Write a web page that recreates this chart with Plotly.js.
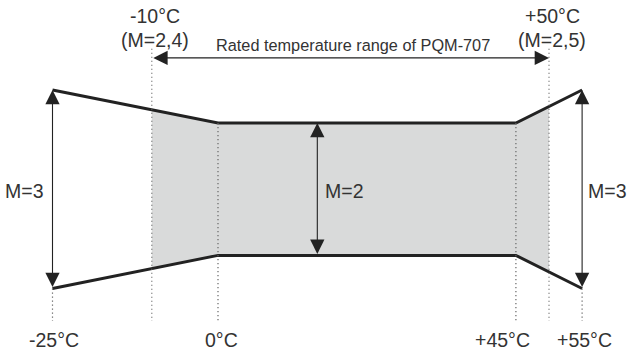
<!DOCTYPE html>
<html>
<head>
<meta charset="utf-8">
<script src="https://cdn.plot.ly/plotly-3.0.1.min.js"></script>
<style>html,body{margin:0;padding:0;background:#fff;}#chart{width:627px;height:351px;}</style>
</head>
<body>
<div id="chart"></div>
<script>
// Envelope of the uncertainty multiplier M vs temperature
const envTemps = [-25, 0, 45, 55];
const envM = [3, 2, 2, 3];
// Rated temperature range (shaded)
const ratedTemps = [-10, 0, 45, 50];
const ratedM = [2.4, 2, 2, 2.5];
// Bottom tick labels
const bottomTemps = [-25, 0, 45, 55];
const bottomLabels = ['-25°C', '0°C', '+45°C', '+55°C'];
// Top labels (range limits)
const topTemps = [-10, 50];
const topLabels = ['-10°C', '+50°C'];
const topMLabels = ['(M=2,4)', '(M=2,5)'];
const rangeTitle = 'Rated temperature range of PQM-707';
// M labels next to the vertical arrows
const mArrowTemps = [-25, 15, 55];
const mArrowValues = [3, 2, 3];
const mLabelTemps = [-29.3, 19.0, 58.8];
const mLabels = ['M=3', 'M=2', 'M=3'];

const ink = '#222';
const txt = '#333';
const fontFam = 'Liberation Sans, Arial, sans-serif';

const fillX = ratedTemps.concat(ratedTemps.slice().reverse());
const fillY = ratedM.concat(ratedM.slice().reverse().map(v => -v));

const traces = [
  {x: fillX, y: fillY, type: 'scatter', mode: 'lines', fill: 'toself',
   fillcolor: '#d9dada', line: {width: 0}, hoverinfo: 'skip', showlegend: false},
  {x: envTemps, y: envM, type: 'scatter', mode: 'lines',
   line: {color: ink, width: 3}, hoverinfo: 'skip', showlegend: false},
  {x: envTemps, y: envM.map(v => -v), type: 'scatter', mode: 'lines',
   line: {color: ink, width: 3}, hoverinfo: 'skip', showlegend: false}
];

const envAt = t => {
  for (let i = 0; i < envTemps.length - 1; i++) {
    const a = envTemps[i], b = envTemps[i + 1];
    if (t >= a && t <= b) return envM[i] + (envM[i + 1] - envM[i]) * (t - a) / (b - a);
  }
  return envM[envM.length - 1];
};

const dotStyle = {color: '#666', width: 1.2, dash: '1.2px,2.8px'};
const shapes = [];
const bottomY = -3.98;
const topLineY = 4.25;
[envTemps[0], envTemps[envTemps.length - 1]].forEach(t => {
  shapes.push({type: 'line', xref: 'x', yref: 'y', x0: t, x1: t, y0: -envAt(t), y1: bottomY, line: dotStyle, layer: 'above'});
});
topTemps.forEach(t => {
  shapes.push({type: 'line', xref: 'x', yref: 'y', x0: t, x1: t, y0: topLineY, y1: bottomY, line: dotStyle, layer: 'above'});
});
[envTemps[1], envTemps[2]].forEach(t => {
  shapes.push({type: 'line', xref: 'x', yref: 'y', x0: t, x1: t, y0: envAt(t), y1: bottomY, line: dotStyle, layer: 'above'});
});

const annotations = [];
const font = {family: fontFam, size: 19.5, color: txt};
const arrowBase = {text: '', showarrow: true, axref: 'x', ayref: 'y', arrowcolor: ink,
  arrowwidth: 1.1, arrowhead: 2, startarrowhead: 2, arrowsize: 2.6, startarrowsize: 2.6,
  arrowside: 'end+start', standoff: 0, startstandoff: 0};

mArrowTemps.forEach((t, i) => {
  annotations.push(Object.assign({}, arrowBase, {x: t, y: mArrowValues[i], ax: t, ay: -mArrowValues[i]}));
  annotations.push({x: mLabelTemps[i], y: -0.05, text: mLabels[i], showarrow: false, font: font, xanchor: 'center', yanchor: 'middle'});
});
annotations.push(Object.assign({}, arrowBase, {x: topTemps[1], y: 3.97, ax: topTemps[0], ay: 3.97}));
annotations.push({x: 20.4, y: 4.37, text: rangeTitle, showarrow: false,
  font: {family: fontFam, size: 16.3, color: txt}, xanchor: 'center', yanchor: 'middle'});

topTemps.forEach((t, i) => {
  annotations.push({x: t, y: 5.24, text: topLabels[i], showarrow: false, font: font, xanchor: 'center', yanchor: 'middle', xshift: 3});
  annotations.push({x: t, y: 4.52, text: topMLabels[i], showarrow: false, font: font, xanchor: 'center', yanchor: 'middle', xshift: 3});
});
bottomTemps.forEach((t, i) => {
  const shift = [1, 3, -13, 2][i];
  annotations.push({x: t, y: -4.56, text: bottomLabels[i], showarrow: false, font: font, xanchor: 'center', yanchor: 'middle', xshift: shift});
});

const layout = {
  width: 627, height: 351,
  margin: {l: 0, r: 0, t: 0, b: 0, pad: 0},
  paper_bgcolor: '#fff', plot_bgcolor: '#fff',
  xaxis: {range: [-32.93, 61.78], visible: false, fixedrange: true},
  yaxis: {range: [-4.89, 5.72], visible: false, fixedrange: true},
  shapes: shapes,
  annotations: annotations,
  showlegend: false,
  hovermode: false
};

Plotly.newPlot('chart', traces, layout, {displayModeBar: false, staticPlot: true});
</script>
</body>
</html>
